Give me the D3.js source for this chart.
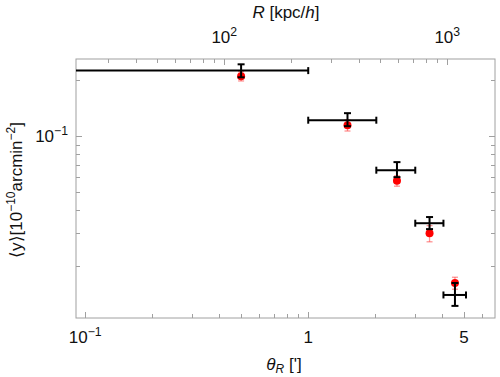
<!DOCTYPE html>
<html><head><meta charset="utf-8">
<script src="https://cdn.jsdelivr.net/npm/d3@7"></script>
<style>body{margin:0;background:#fff}svg{display:block}text{font-family:"Liberation Sans",Arial,sans-serif;fill:#111}</style>
</head><body><svg id="c" width="500" height="377"></svg>
<script>
// data (theta in arcmin, <y> in 1e-10 arcmin^-2)
const thetaCenter = [0.5, 1.5, 2.5, 3.5, 4.55];
const thetaLow    = [0.01, 1.0, 2.02, 3.02, 4.04];
const thetaHigh   = [1.0, 2.02, 3.02, 4.04, 5.1];
const yBlack      = [0.2254, 0.1219, 0.0656, 0.0340, 0.01397];
const yBlackLow   = [0.2075, 0.1132, 0.0602, 0.0316, 0.0122];
const yBlackHigh  = [0.2437, 0.1330, 0.0725, 0.0367, 0.0162];
const yRed        = [0.2103, 0.1146, 0.0575, 0.0300, 0.0162];
const yRedErr     = [0.012, 0.008, 0.0037, 0.003, 0.0012];
const xTickLabels = [[0.1, "10", "−1"], [1, "1", ""], [5, "5", ""]];
const yTickLabels = [[0.1, "10", "−1"]];
const rTickLabels = [[100, "10", "2"], [1000, "10", "3"]];
const kpcPerArcmin = 238;

const L = 76, R = 495, T = 59, B = 318;
const x = d3.scaleLog().domain([0.0909, 6.88]).range([L, R]);
const y = d3.scaleLog().domain([0.0105, 0.2603]).range([B, T]);
const xr = d3.scaleLog().domain([0.0909 * kpcPerArcmin, 6.88 * kpcPerArcmin]).range([L, R]);

const svg = d3.select("#c");
const frameCol = "#a0a0a0";

function minorTicks(scale, lo, hi) {
  const out = [];
  for (let e = -3; e <= 4; e++) for (let m = 1; m <= 9; m++) {
    const v = m * Math.pow(10, e);
    const p = scale(v);
    if (p > lo + 0.5 && p < hi - 0.5) out.push({v, major: m === 1});
  }
  return out;
}

// frame
svg.append("rect").attr("x", L).attr("y", T).attr("width", R - L).attr("height", B - T)
  .attr("fill", "none").attr("stroke", frameCol).attr("stroke-width", 1);

const tk = svg.append("g").attr("stroke", frameCol).attr("stroke-width", 1);
minorTicks(x, L, R).forEach(t => {
  const len = (t.major || t.v === 5) ? 6 : 4;
  const px = Math.round(x(t.v)) + 0.5;
  tk.append("line").attr("x1", px).attr("x2", px).attr("y1", B).attr("y2", B - len);
});
minorTicks(xr, L, R).forEach(t => {
  const len = t.major ? 6 : 4;
  const px = Math.round(xr(t.v)) + 0.5;
  tk.append("line").attr("x1", px).attr("x2", px).attr("y1", T).attr("y2", T + len);
});
minorTicks(y, T, B).forEach(t => {
  const len = t.major ? 6 : 4;
  const py = Math.round(y(t.v)) + 0.5;
  tk.append("line").attr("x1", L).attr("x2", L + len).attr("y1", py).attr("y2", py);
  tk.append("line").attr("x1", R).attr("x2", R - len).attr("y1", py).attr("y2", py);
});

function powLabel(g, base, sup, fs) {
  const t = g.append("text").style("font-size", fs + "px");
  t.append("tspan").text(base);
  if (sup) t.append("tspan").attr("dy", -fs * 0.42).style("font-size", (fs * 0.72) + "px").text(sup);
  return t;
}
const FS = 17;
xTickLabels.forEach(([v, b, s]) => {
  powLabel(svg, b, s, FS).attr("x", x(v)).attr("y", 343).attr("text-anchor", "middle");
});
rTickLabels.forEach(([v, b, s]) => {
  powLabel(svg, b, s, FS).attr("x", xr(v)).attr("y", 43).attr("text-anchor", "middle");
});
yTickLabels.forEach(([v, b, s]) => {
  powLabel(svg, b, s, FS).attr("x", L - 8).attr("y", y(v) + 6).attr("text-anchor", "end");
});

// axis labels
const topLab = svg.append("text").attr("x", 286).attr("y", 18).attr("text-anchor", "middle").style("font-size", FS + "px");
topLab.append("tspan").style("font-style", "italic").text("R");
topLab.append("tspan").text(" [kpc/");
topLab.append("tspan").style("font-style", "italic").text("h");
topLab.append("tspan").text("]");

const botLab = svg.append("text").attr("x", 284).attr("y", 370).attr("text-anchor", "middle").style("font-size", FS + "px");
botLab.append("tspan").style("font-style", "italic").text("θ");
botLab.append("tspan").style("font-style", "italic").style("font-size", "12px").attr("dy", 3).text("R");
botLab.append("tspan").attr("dy", -3).text(" [']");

const yl = svg.append("text").attr("transform", "translate(22,190) rotate(-90)").attr("text-anchor", "middle").style("font-size", FS + "px");
yl.append("tspan").text("⟨y⟩[10");
yl.append("tspan").attr("dy", -7).style("font-size", "12px").text("−10");
yl.append("tspan").attr("dy", 7).text("arcmin");
yl.append("tspan").attr("dy", -7).style("font-size", "12px").text("−2");
yl.append("tspan").attr("dy", 7).text("]");

// clip
svg.append("clipPath").attr("id", "clip").append("rect").attr("x", L).attr("y", T).attr("width", R - L).attr("height", B - T);
const plot = svg.append("g").attr("clip-path", "url(#clip)");

// red points
const red = plot.append("g");
thetaCenter.forEach((tc, i) => {
  const cx = x(tc);
  const y1 = y(yRed[i] + yRedErr[i]), y2 = y(yRed[i] - yRedErr[i]);
  const g = red.append("g").attr("stroke", "rgba(255,60,60,0.55)").attr("stroke-width", 1.3);
  g.append("line").attr("x1", cx).attr("x2", cx).attr("y1", y1).attr("y2", y2);
  g.append("line").attr("x1", cx - 3).attr("x2", cx + 3).attr("y1", y1).attr("y2", y1);
  g.append("line").attr("x1", cx - 3).attr("x2", cx + 3).attr("y1", y2).attr("y2", y2);
  red.append("circle").attr("cx", cx).attr("cy", y(yRed[i])).attr("r", 4).attr("fill", "#f00");
});

// black crosses
const blk = plot.append("g").attr("stroke", "#000").attr("stroke-width", 2);
thetaCenter.forEach((tc, i) => {
  const cx = x(tc), cy = y(yBlack[i]);
  const xl = x(thetaLow[i]), xh = x(thetaHigh[i]);
  const yt = y(yBlackHigh[i]), yb = y(yBlackLow[i]);
  blk.append("line").attr("x1", xl).attr("x2", xh).attr("y1", cy).attr("y2", cy);
  blk.append("line").attr("x1", xl).attr("x2", xl).attr("y1", cy - 3.5).attr("y2", cy + 3.5);
  blk.append("line").attr("x1", xh).attr("x2", xh).attr("y1", cy - 3.5).attr("y2", cy + 3.5);
  blk.append("line").attr("x1", cx).attr("x2", cx).attr("y1", yt).attr("y2", yb);
  blk.append("line").attr("x1", cx - 3.5).attr("x2", cx + 3.5).attr("y1", yt).attr("y2", yt);
  blk.append("line").attr("x1", cx - 3.5).attr("x2", cx + 3.5).attr("y1", yb).attr("y2", yb);
});
</script></body></html>
